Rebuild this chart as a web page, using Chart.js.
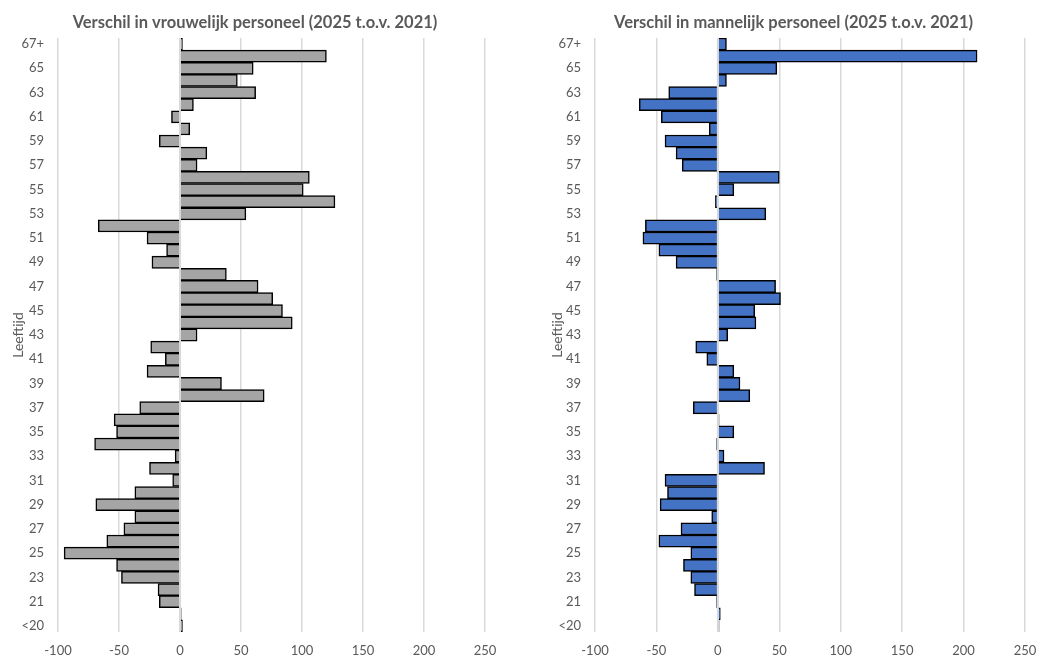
<!DOCTYPE html>
<html><head><meta charset="utf-8">
<script src="https://cdn.jsdelivr.net/npm/chart.js@4/dist/chart.umd.min.js"></script>
<style>
html,body{margin:0;padding:0;background:#fff;overflow:hidden;}
#wrap{position:relative;width:1039px;height:659px;overflow:hidden;}
.panel{position:absolute;top:0;height:659px;width:519px;}
.panel canvas{display:block;}
#p1{left:0;}
#p2{left:520px;}
</style></head><body>
<div id="wrap">
  <div class="panel" id="p1"><canvas id="c1" width="519" height="659"></canvas></div>
  <div class="panel" id="p2"><canvas id="c2" width="519" height="659"></canvas></div>
</div>
<script>
// Categories (age), bottom to top
const ageLabels = ['<20','20','21','22','23','24','25','26','27','28','29','30','31','32','33','34','35','36','37','38','39','40','41','42','43','44','45','46','47','48','49','50','51','52','53','54','55','56','57','58','59','60','61','62','63','64','65','66','67+'];
// Tick labels that are shown on the category axis
const shownAgeLabels = ['<20','21','23','25','27','29','31','33','35','37','39','41','43','45','47','49','51','53','55','57','59','61','63','65','67+'];
// Difference in female staff (2025 vs 2021)
const femaleDiff = [2,1,-17,-18,-48,-52,-95,-60,-46,-37,-69,-37,-6,-25,-4,-70,-52,-54,-33,69,34,-27,-12,-24,14,92,84,76,64,38,-23,-11,-27,-67,54,127,101,106,14,22,-17,8,-7,11,62,47,60,120,2];
// Difference in male staff (2025 vs 2021)
const maleDiff = [1,2,-1,-19,-22,-28,-22,-48,-30,-5,-47,-41,-43,38,5,-1,13,1,-20,26,18,13,-9,-18,8,31,30,51,47,-1,-34,-48,-61,-59,39,-2,13,50,-29,-34,-43,-7,-46,-64,-40,7,48,211,7];
// Value axis ticks
const valueTicks = [-100,-50,0,50,100,150,200,250];
const titles = ['Verschil in vrouwelijk personeel (2025 t.o.v. 2021)','Verschil in mannelijk personeel (2025 t.o.v. 2021)'];
const axisTitle = 'Leeftijd';

const FONT = "Lato, 'Noto Sans', 'DejaVu Sans', sans-serif";
const TXT = '#595959';
const GRID = '#d9d9d9';

const zeroLine = {
  id: 'zeroLine',
  afterDatasetsDraw(chart) {
    const x = chart.scales.x.getPixelForValue(0);
    const {top, bottom} = chart.chartArea;
    const ctx = chart.ctx;
    ctx.save();
    ctx.strokeStyle = GRID;
    ctx.lineWidth = 2;
    ctx.beginPath();
    ctx.moveTo(x, top);
    ctx.lineTo(x, bottom);
    ctx.stroke();
    ctx.restore();
  }
};

const panelTitle = {
  id: 'panelTitle',
  afterDraw(chart, args, opts) {
    const ctx = chart.ctx;
    const ca = chart.chartArea;
    ctx.save();
    ctx.font = 'bold 16.5px ' + FONT;
    ctx.fillStyle = TXT;
    ctx.textAlign = 'center';
    ctx.textBaseline = 'middle';
    ctx.fillText(opts.text, (ca.left + ca.right) / 2 + opts.shift, opts.y);
    ctx.restore();
  }
};

function makeChart(id, values, fill, title, padL, padR, yWidth) {
  return new Chart(document.getElementById(id), {
    type: 'bar',
    data: {
      labels: ageLabels,
      datasets: [{
        data: values,
        backgroundColor: fill,
        borderColor: '#000000',
        borderWidth: 1.5,
        barPercentage: 1,
        categoryPercentage: 1
      }]
    },
    options: {
      indexAxis: 'y',
      responsive: false,
      animation: false,
      layout: {autoPadding: false, padding: {left: padL, right: padR, top: 38, bottom: 0}},
      plugins: {
        legend: {display: false},
        title: {display: false},
        tooltip: {enabled: false},
        panelTitle: {text: title, shift: -16.5, y: 23}
      },
      scales: {
        x: {
          min: valueTicks[0],
          max: valueTicks[valueTicks.length - 1],
          afterBuildTicks(scale) { scale.ticks = valueTicks.map(v => ({value: v})); },
          afterFit(scale) { scale.height = 27; scale.paddingLeft = 0; scale.paddingRight = 0; },
          grid: {color: GRID, lineWidth: 1.5, drawTicks: false},
          border: {display: false},
          ticks: {color: TXT, font: {family: FONT, size: 13}, padding: 11}
        },
        y: {
          reverse: true,
          afterFit(scale) { scale.width = yWidth; scale.paddingTop = 0; scale.paddingBottom = 0; },
          grid: {display: false, drawTicks: false},
          border: {display: false},
          ticks: {
            autoSkip: false,
            color: TXT,
            font: {family: FONT, size: 13},
            padding: 14,
            callback(val) {
              const lab = this.getLabelForValue(val);
              return shownAgeLabels.includes(lab) ? lab : '';
            }
          },
          title: {display: true, text: axisTitle, color: TXT, font: {family: FONT, size: 14}, padding: {top: 0, bottom: 0}}
        }
      }
    },
    plugins: [zeroLine, panelTitle]
  });
}

makeChart('c1', femaleDiff, '#a5a5a5', titles[0], 10, 34, 48);
makeChart('c2', maleDiff, '#4472c4', titles[1], 29, 14, 46);
</script>
</body></html>
